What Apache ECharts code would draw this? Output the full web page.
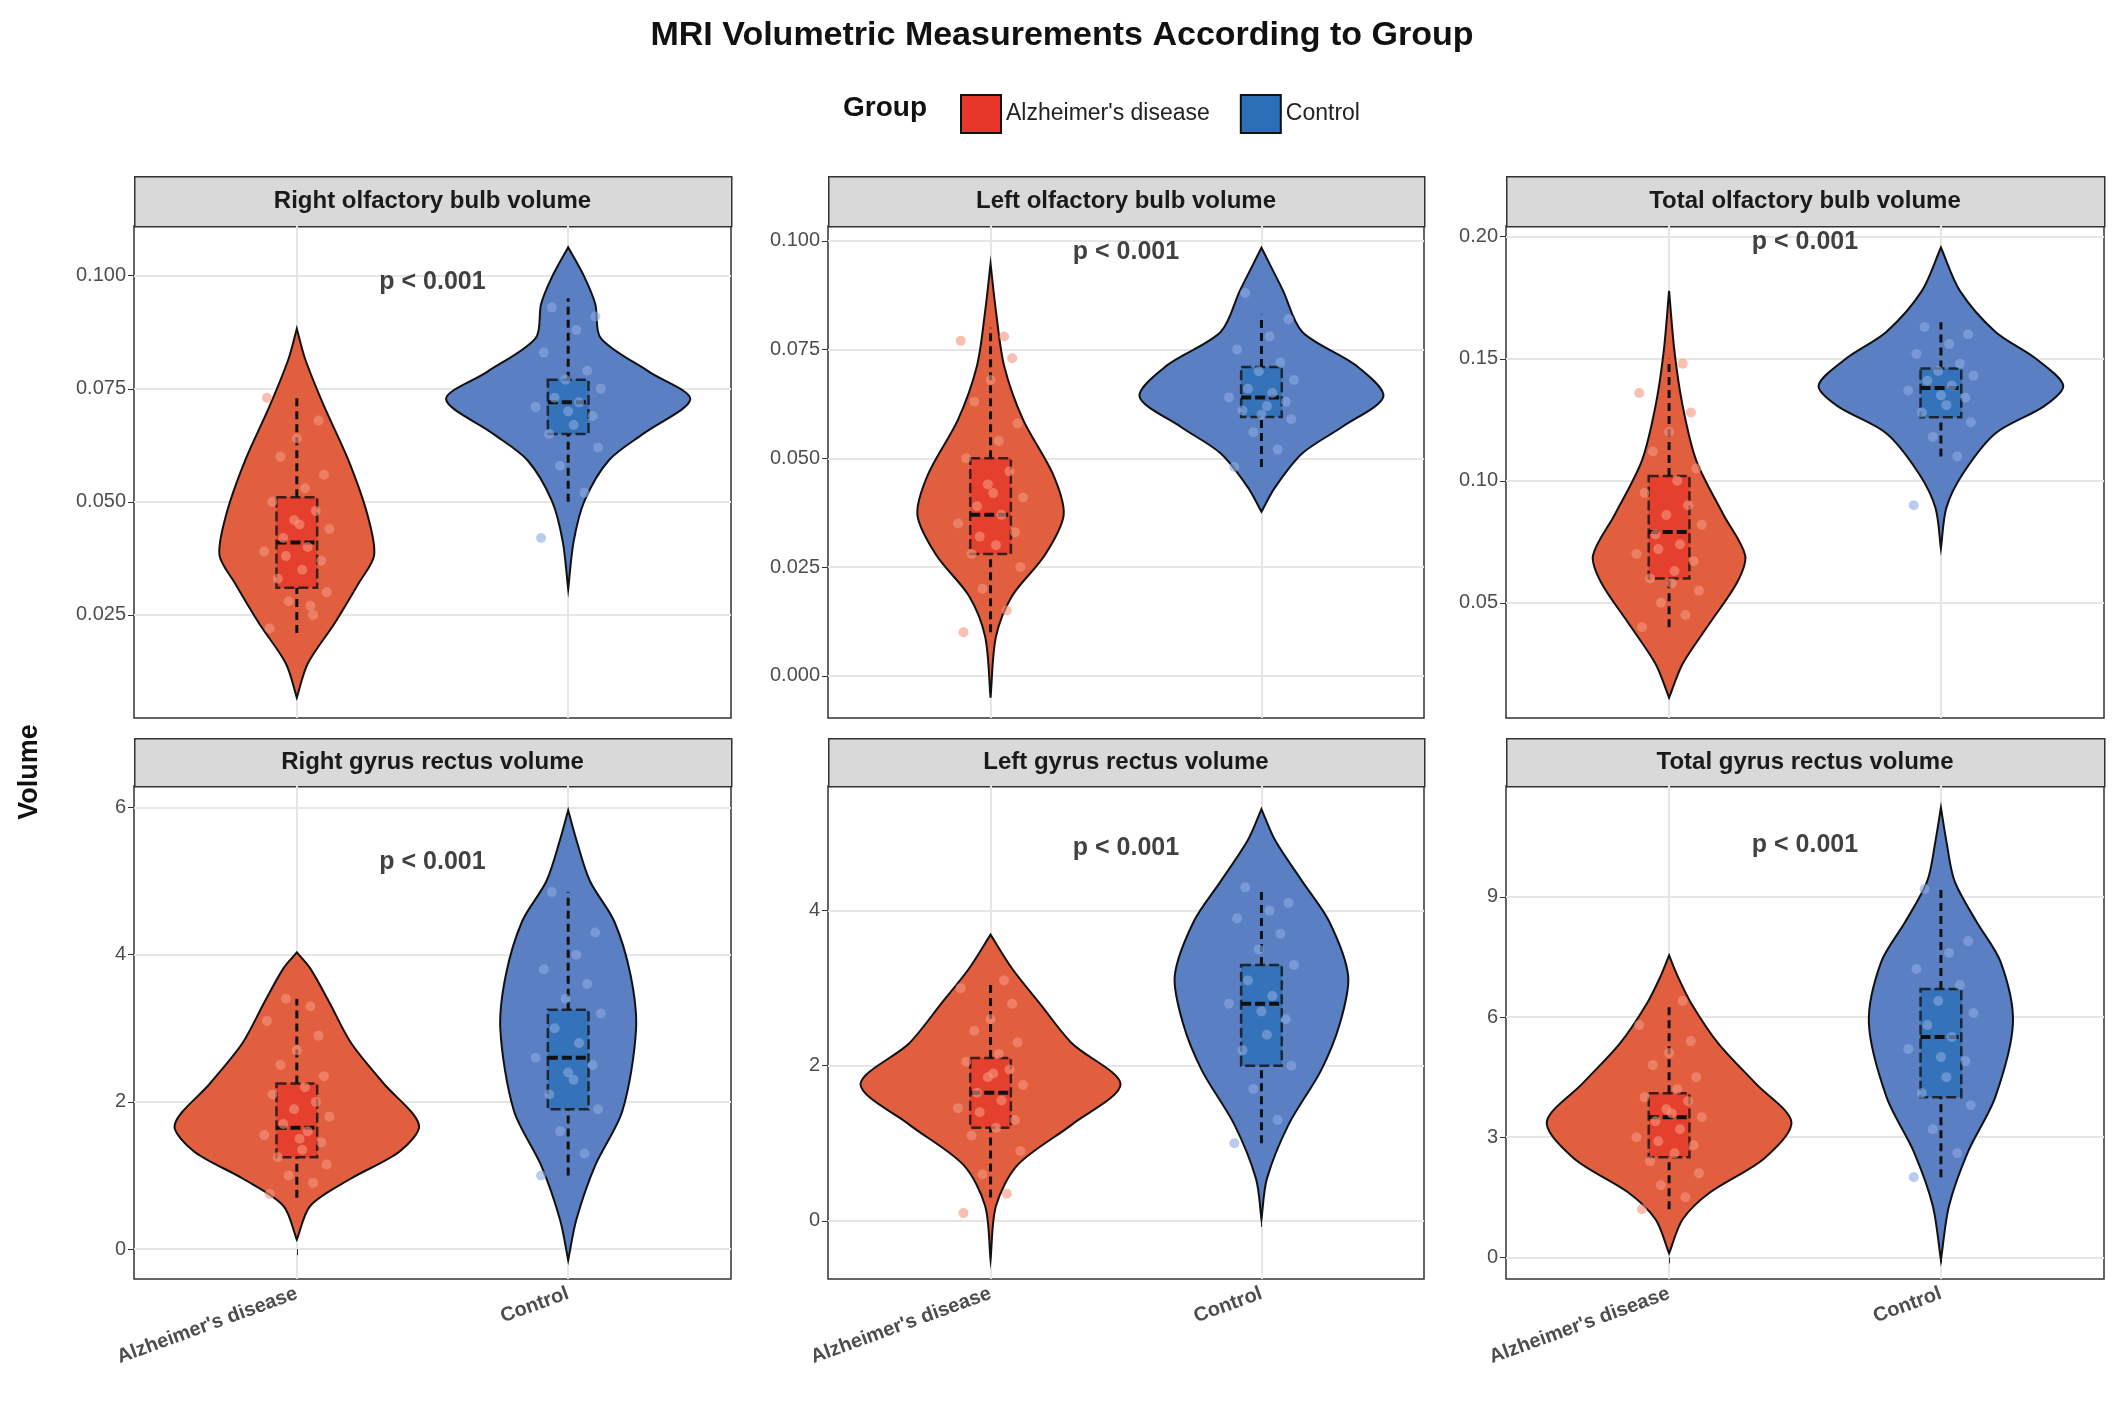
<!DOCTYPE html>
<html lang="en">
<head>
<meta charset="UTF-8">
<title>MRI Volumetric Measurements</title>
<script src="https://cdn.jsdelivr.net/npm/echarts@6/dist/echarts.min.js"></script>
<style>html,body{margin:0;background:#fff}#main{width:2124px;height:1412px}</style>
</head>
<body>
<div id="main"></div>
<script>
var groups = ["Alzheimer's disease", "Control"];
var panelTitles = ['Right olfactory bulb volume', 'Left olfactory bulb volume', 'Total olfactory bulb volume',
                   'Right gyrus rectus volume', 'Left gyrus rectus volume', 'Total gyrus rectus volume'];
var yTicks = [[0.025,0.05,0.075,0.1],[0,0.025,0.05,0.075,0.1],[0.05,0.1,0.15,0.2],[0,2,4,6],[0,2,4],[0,3,6,9]];
var yTickLabels = [['0.025','0.050','0.075','0.100'],['0.000','0.025','0.050','0.075','0.100'],['0.05','0.10','0.15','0.20'],
                   ['0','2','4','6'],['0','2','4'],['0','3','6','9']];
var yRanges = [[0.0022,0.111],[-0.0097,0.1034],[0.0028,0.2044],[-0.405,6.29],[-0.751,5.607],[-0.541,11.77]];
var pValueY = [0.0985,0.0975,0.198,5.25,4.8,10.3];

// violin half-width profiles: [value, half width]
var violinAD = [
  [[0.0067,0],[0.0142,0.04],[0.0232,0.14],[0.0322,0.23],[0.0382,0.285],[0.0472,0.26],[0.0592,0.19],[0.0712,0.1],[0.0817,0.03],[0.0883,0]],
  [[-0.005,0],[0.009,0.02],[0.0184,0.08],[0.0277,0.2],[0.037,0.27],[0.0464,0.23],[0.0589,0.12],[0.0713,0.05],[0.0838,0.02],[0.0947,0]],
  [[0.0111,0],[0.025,0.05],[0.0417,0.15],[0.0583,0.25],[0.0694,0.28],[0.0861,0.2],[0.1083,0.1],[0.1306,0.05],[0.1528,0.02],[0.1778,0]],
  [[0.13,0],[0.59,0.05],[0.96,0.2],[1.33,0.38],[1.69,0.45],[2.25,0.32],[2.8,0.2],[3.35,0.12],[3.81,0.05],[4.03,0]],
  [[-0.5,0],[0.19,0.02],[0.72,0.1],[1.24,0.3],[1.76,0.48],[2.29,0.3],[2.81,0.18],[3.25,0.08],[3.69,0]],
  [[0.1,0],[0.95,0.05],[1.62,0.15],[2.47,0.35],[3.38,0.45],[4.33,0.32],[5.35,0.18],[6.36,0.08],[7.04,0.03],[7.54,0]]
];
var violinCtrl = [
  [[0.0307,0],[0.0412,0.02],[0.0502,0.06],[0.0592,0.15],[0.0652,0.28],[0.0727,0.45],[0.0787,0.3],[0.0862,0.12],[0.0937,0.1],[0.0997,0.06],[0.1063,0]],
  [[0.0377,0],[0.0433,0.05],[0.0511,0.15],[0.0573,0.3],[0.0642,0.45],[0.0713,0.35],[0.0791,0.15],[0.0885,0.08],[0.0947,0.03],[0.0984,0]],
  [[0.0722,0],[0.0889,0.02],[0.1028,0.08],[0.1194,0.2],[0.1306,0.38],[0.139,0.45],[0.15,0.35],[0.1611,0.2],[0.1778,0.07],[0.1956,0]],
  [[-0.15,0],[0.4,0.03],[1.14,0.1],[1.88,0.2],[2.98,0.25],[3.72,0.23],[4.45,0.17],[5.0,0.08],[5.56,0.03],[5.96,0]],
  [[0.02,0],[0.54,0.02],[1.24,0.1],[1.94,0.22],[2.55,0.29],[3.16,0.32],[3.86,0.25],[4.38,0.15],[4.91,0.05],[5.31,0]],
  [[-0.07,0],[1.29,0.03],[2.64,0.1],[4.0,0.2],[5.85,0.265],[7.37,0.22],[8.39,0.13],[9.4,0.05],[10.4,0.02],[11.23,0]]
];
// box stats: [lower whisker, q1, median, q3, upper whisker]
var boxAD = [[0.021,0.031,0.041,0.051,0.074],[0.01,0.028,0.037,0.05,0.08],[0.04,0.06,0.079,0.102,0.15],
             [0.7,1.25,1.65,2.25,3.4],[0.3,1.2,1.65,2.1,3.1],[1.2,2.5,3.5,4.1,6.3]];
var boxCtrl = [[0.05,0.065,0.072,0.077,0.095],[0.048,0.0595,0.064,0.071,0.083],[0.11,0.126,0.138,0.146,0.165],
               [1.0,1.9,2.6,3.25,4.85],[1.0,2.0,2.8,3.3,4.3],[2.0,4.0,5.5,6.7,9.2]];
// individual observations (read approximately)
var pointsAD = [
  [0.022,0.025,0.028,0.030,0.033,0.035,0.037,0.039,0.040,0.042,0.044,0.046,0.048,0.050,0.053,0.056,0.060,0.064,0.068,0.073,0.027,0.038,0.045],
  [0.010,0.015,0.020,0.025,0.028,0.030,0.033,0.035,0.037,0.039,0.041,0.044,0.047,0.050,0.054,0.058,0.063,0.068,0.073,0.077,0.078,0.032,0.042],
  [0.040,0.045,0.050,0.055,0.060,0.063,0.067,0.070,0.074,0.078,0.082,0.086,0.090,0.095,0.100,0.105,0.112,0.120,0.128,0.136,0.148,0.072,0.058],
  [0.75,0.9,1.0,1.15,1.25,1.35,1.45,1.55,1.6,1.7,1.8,1.9,2.0,2.1,2.2,2.35,2.5,2.7,2.9,3.1,3.3,3.4,1.5],
  [0.1,0.35,0.6,0.9,1.1,1.2,1.3,1.45,1.55,1.65,1.75,1.85,1.95,2.05,2.15,2.3,2.45,2.6,2.8,3.0,3.1,1.4,1.9],
  [1.2,1.5,1.8,2.1,2.4,2.6,2.8,3.0,3.2,3.4,3.5,3.7,3.9,4.0,4.2,4.5,4.8,5.1,5.4,5.8,6.4,2.9,3.6]
];
var pointsCtrl = [
  [0.042,0.052,0.058,0.062,0.065,0.067,0.069,0.071,0.072,0.073,0.075,0.077,0.079,0.083,0.088,0.091,0.093,0.070],
  [0.048,0.052,0.056,0.059,0.061,0.062,0.063,0.064,0.065,0.066,0.068,0.070,0.072,0.075,0.078,0.082,0.088,0.060],
  [0.090,0.110,0.118,0.124,0.128,0.131,0.134,0.137,0.139,0.141,0.143,0.145,0.148,0.152,0.156,0.160,0.163,0.135],
  [1.0,1.3,1.6,1.9,2.1,2.3,2.5,2.6,2.8,3.0,3.2,3.4,3.6,3.8,4.0,4.3,4.85,2.4],
  [1.0,1.3,1.7,2.0,2.2,2.4,2.6,2.8,2.9,3.1,3.3,3.5,3.7,3.9,4.0,4.1,4.3,2.7],
  [2.0,2.6,3.2,3.8,4.1,4.5,4.9,5.2,5.5,5.8,6.1,6.4,6.8,7.2,7.6,7.9,9.2,5.0]
];
var jitter = [-0.1,0.06,-0.03,0.11,-0.07,0.02,0.09,-0.12,0.04,-0.05,0.12,-0.01,0.07,-0.09,0.03,0.1,-0.06,0.0,0.08,-0.11,0.05,-0.04,0.01];

var violinColors = ['#e15f3f', '#5a7fc3'];
var boxColors = ['#e6372a', '#2a6fb7'];
var pointColors = ['rgba(245,150,125,0.75)', 'rgba(140,170,225,0.75)'];

var lefts = [134, 828, 1506], widths = [597, 596, 598];
var tops = [226, 786], heights = [492, 493];
var stripTops = [176, 738], stripH = [50, 48];

var grids = [], xAxes = [], yAxes = [], series = [], graphics = [];
for (var p = 0; p < 6; p++) {
  var c = p % 3, r = Math.floor(p / 3);
  grids.push({left: lefts[c], top: tops[r], width: widths[c], height: heights[r], show: true,
              borderColor: '#333', borderWidth: 1.5, backgroundColor: '#fff'});
  xAxes.push({type: 'value', gridIndex: p, min: 0.4, max: 2.6,
    axisLine: {show: false},
    axisTick: {show: r === 1, customValues: [1, 2], length: 6, lineStyle: {color: '#333'}},
    axisLabel: {show: r === 1, customValues: [1, 2], rotate: 20, fontSize: 20, fontWeight: 'bold', color: '#4d4d4d',
                fontFamily: 'Liberation Sans', margin: 14, formatter: function (v) { return groups[v - 1]; }},
    splitLine: {show: true, lineStyle: {color: '#e6e6e6', width: 2}}});
  (function (pp) {
    yAxes.push({type: 'value', gridIndex: pp, min: yRanges[pp][0], max: yRanges[pp][1],
      axisLine: {show: false},
      axisTick: {show: true, customValues: yTicks[pp], length: 6, lineStyle: {color: '#333'}},
      axisLabel: {customValues: yTicks[pp], fontSize: 20, color: '#4d4d4d', fontFamily: 'Liberation Sans',
                  formatter: function (v) { var i = yTicks[pp].indexOf(v); return i >= 0 ? yTickLabels[pp][i] : v; }},
      splitLine: {show: true, lineStyle: {color: '#e6e6e6', width: 2}}});
  })(p);

  [violinAD[p], violinCtrl[p]].forEach(function (prof, g) {
    series.push({type: 'custom', name: groups[g], xAxisIndex: p, yAxisIndex: p, z: 2,
      itemStyle: {color: violinColors[g]},
      data: [[g + 1]],
      renderItem: function (params, api) {
        var cx = api.value(0), pts = [];
        prof.forEach(function (d) { pts.push(api.coord([cx + d[1], d[0]])); });
        for (var i = prof.length - 1; i >= 0; i--) pts.push(api.coord([cx - prof[i][1], prof[i][0]]));
        return {type: 'polygon', shape: {points: pts, smooth: 0.3},
                style: {fill: violinColors[g], stroke: '#111', lineWidth: 2}};
      }});
    var pts = (g === 0 ? pointsAD[p] : pointsCtrl[p]).map(function (v, i) { return [g + 1 + jitter[i % jitter.length], v]; });
    series.push({type: 'scatter', name: groups[g], xAxisIndex: p, yAxisIndex: p, z: 6, symbolSize: 10,
      itemStyle: {color: pointColors[g]}, data: pts});
    var b = g === 0 ? boxAD[p] : boxCtrl[p];
    series.push({type: 'custom', name: groups[g], xAxisIndex: p, yAxisIndex: p, z: 4,
      itemStyle: {color: boxColors[g]},
      data: [[g + 1].concat(b)],
      renderItem: function (params, api) {
        var cx = api.value(0), hw = 0.075;
        var tl = api.coord([cx - hw, api.value(4)]), br = api.coord([cx + hw, api.value(2)]);
        var lo = api.coord([cx, api.value(1)]), q1 = api.coord([cx, api.value(2)]);
        var q3 = api.coord([cx, api.value(4)]), hi = api.coord([cx, api.value(5)]);
        var mL = api.coord([cx - hw, api.value(3)]), mR = api.coord([cx + hw, api.value(3)]);
        var dash = {stroke: '#111', lineWidth: 3, lineDash: [8, 5]};
        return {type: 'group', children: [
          {type: 'line', shape: {x1: lo[0], y1: lo[1], x2: q1[0], y2: q1[1]}, style: dash},
          {type: 'line', shape: {x1: q3[0], y1: q3[1], x2: hi[0], y2: hi[1]}, style: dash},
          {type: 'rect', shape: {x: tl[0], y: tl[1], width: br[0] - tl[0], height: br[1] - tl[1]},
           style: {fill: boxColors[g], opacity: 0.8, stroke: '#111', lineWidth: 2.5, lineDash: [10, 4]}},
          {type: 'line', shape: {x1: mL[0], y1: mL[1], x2: mR[0], y2: mR[1]}, style: {stroke: '#111', lineWidth: 4, lineDash: [10, 4]}}
        ]};
      }});
  });
  series.push({type: 'scatter', xAxisIndex: p, yAxisIndex: p, z: 7, symbolSize: 0, silent: true,
    data: [[1.5, pValueY[p]]],
    label: {show: true, position: 'inside', formatter: 'p < 0.001', fontSize: 25, fontWeight: 'bold',
            color: '#111', fontFamily: 'Liberation Sans'}});

  graphics.push({type: 'rect', left: lefts[c], top: stripTops[r],
    shape: {width: widths[c], height: stripH[r]}, style: {fill: '#d9d9d9', stroke: '#333', lineWidth: 1.5}});
  graphics.push({type: 'text', x: lefts[c] + widths[c] / 2, y: stripTops[r] + stripH[r] / 2,
    style: {text: panelTitles[p], fontSize: 24, fontWeight: 'bold', fill: '#1a1a1a', fontFamily: 'Liberation Sans',
            textAlign: 'center', textVerticalAlign: 'middle'}});
}
graphics.push({type: 'text', x: 843, y: 108, style: {text: 'Group', fontSize: 28, fontWeight: 'bold', fill: '#111',
  fontFamily: 'Liberation Sans', textVerticalAlign: 'middle'}});
graphics.push({type: 'text', x: 30, y: 772, rotation: Math.PI / 2, style: {text: 'Volume', fontSize: 27, fontWeight: 'bold',
  fill: '#111', fontFamily: 'Liberation Sans', textAlign: 'center', textVerticalAlign: 'middle'}});

var chart = echarts.init(document.getElementById('main'));
chart.setOption({
  animation: false,
  title: {text: 'MRI Volumetric Measurements According to Group', left: 'center', top: 14,
          textStyle: {fontSize: 34, fontWeight: 'bold', color: '#111', fontFamily: 'Liberation Sans'}},
  legend: {left: 955, top: 89, itemWidth: 40, itemHeight: 38, itemGap: 30, icon: 'rect',
           textStyle: {fontSize: 23, color: '#222', fontFamily: 'Liberation Sans'},
           data: groups.map(function (g, i) { return {name: g, itemStyle: {color: boxColors[i], borderColor: '#111', borderWidth: 2}}; })},
  grid: grids, xAxis: xAxes, yAxis: yAxes, series: series, graphic: graphics
});
</script>
</body>
</html>
